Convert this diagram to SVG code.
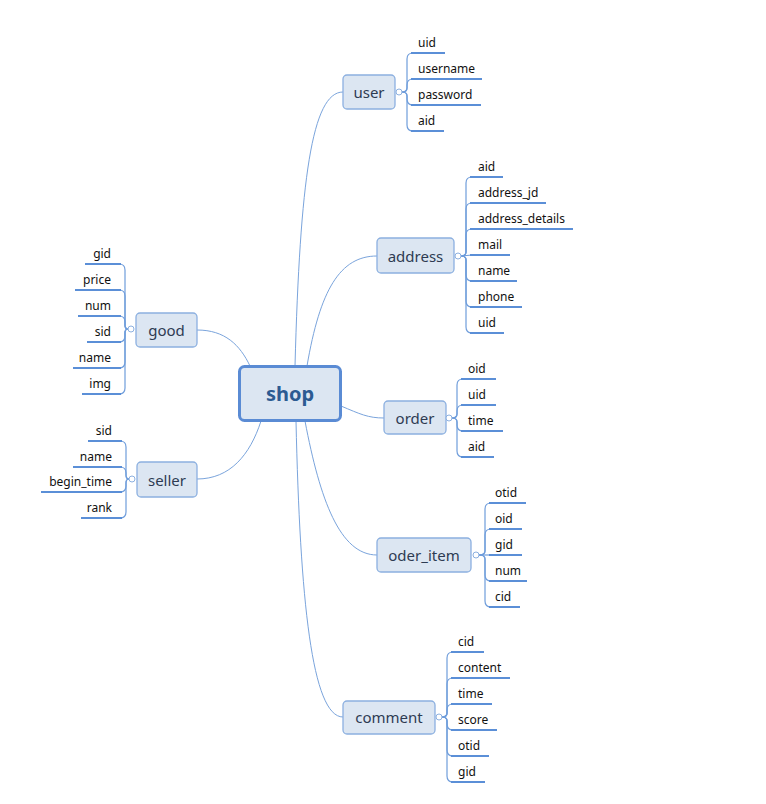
<svg xmlns="http://www.w3.org/2000/svg" width="766" height="804" viewBox="0 0 766 804">
<style>
.bg{fill:#ffffff}
.node{fill:#dce6f2;stroke:#8cb0e0;stroke-width:1.3}
.root{fill:#dce6f2;stroke:#5a8bd4;stroke-width:3}
.lbl{font-family:"Noto Sans","Open Sans",sans-serif;font-size:15px;fill:#2e3b52;text-anchor:middle;dominant-baseline:central}
.rlbl{font-family:"Noto Sans","Open Sans",sans-serif;font-size:20px;font-weight:bold;fill:#2c5b92;text-anchor:middle;dominant-baseline:central}
.ct{font-family:"Noto Sans","Open Sans",sans-serif;font-size:12px;fill:#111111}
.ce{text-anchor:end}
.ul{stroke:#5b8fd7;stroke-width:2;fill:none}
.con{stroke:#7aa4dc;stroke-width:1;fill:none}
.br{stroke:#6f9ddb;stroke-width:1.2;fill:none}
.dot{fill:#ffffff;stroke:#8cb0e0;stroke-width:1}
</style>
<rect class="bg" x="0" y="0" width="766" height="804"/>
<g id="connectors">
<path class="con" d="M295 366 C300 180 312 92 343 92"/>
<path class="con" d="M307 366 C320 290 340 256 377 256"/>
<path class="con" d="M341 406 C360 414 368 418 384 418"/>
<path class="con" d="M305 421 C320 500 340 555 377 555"/>
<path class="con" d="M296 421 C300 600 312 717 343 717"/>
<path class="con" d="M250 366 C240 345 225 330 197 330"/>
<path class="con" d="M261 421 C250 455 230 479 197 479"/>
<!-- user brace -->
<path class="br" d="M402 92 Q407 92 407 88 L407 59 Q407 53 413 53"/>
<path class="br" d="M402 92 Q407 92 407 88 L407 85 Q407 79 413 79"/>
<path class="br" d="M402 92 Q407 92 407 96 L407 99 Q407 105 413 105"/>
<path class="br" d="M402 92 Q407 92 407 96 L407 125 Q407 131 413 131"/>
<!-- address brace -->
<path class="br" d="M461 256 Q466 256 466 252 L466 183 Q466 177 472 177"/>
<path class="br" d="M461 256 Q466 256 466 252 L466 209 Q466 203 472 203"/>
<path class="br" d="M461 256 Q466 256 466 252 L466 235 Q466 229 472 229"/>
<path class="br" d="M461 256 L472 255"/>
<path class="br" d="M461 256 Q466 256 466 260 L466 275 Q466 281 472 281"/>
<path class="br" d="M461 256 Q466 256 466 260 L466 301 Q466 307 472 307"/>
<path class="br" d="M461 256 Q466 256 466 260 L466 327 Q466 333 472 333"/>
<!-- order brace -->
<path class="br" d="M452 418 Q457 418 457 414 L457 385 Q457 379 463 379"/>
<path class="br" d="M452 418 Q457 418 457 414 L457 411 Q457 405 463 405"/>
<path class="br" d="M452 418 Q457 418 457 422 L457 425 Q457 431 463 431"/>
<path class="br" d="M452 418 Q457 418 457 422 L457 451 Q457 457 463 457"/>
<!-- oder_item brace -->
<path class="br" d="M479 555 Q485 555 485 551 L485 509 Q485 503 491 503"/>
<path class="br" d="M479 555 Q485 555 485 551 L485 535 Q485 529 491 529"/>
<path class="br" d="M479 555 L491 555"/>
<path class="br" d="M479 555 Q485 555 485 559 L485 575 Q485 581 491 581"/>
<path class="br" d="M479 555 Q485 555 485 559 L485 601 Q485 607 491 607"/>
<!-- comment brace -->
<path class="br" d="M442 717 Q447 717 447 713 L447 658 Q447 652 453 652"/>
<path class="br" d="M442 717 Q447 717 447 713 L447 684 Q447 678 453 678"/>
<path class="br" d="M442 717 Q447 717 447 713 L447 710 Q447 704 453 704"/>
<path class="br" d="M442 717 Q447 717 447 721 L447 724 Q447 730 453 730"/>
<path class="br" d="M442 717 Q447 717 447 721 L447 750 Q447 756 453 756"/>
<path class="br" d="M442 717 Q447 717 447 721 L447 776 Q447 782 453 782"/>
<!-- good brace -->
<path class="br" d="M128 329 Q125 329 125 325 L125 270 Q125 264 119 264"/>
<path class="br" d="M128 329 Q125 329 125 325 L125 296 Q125 290 119 290"/>
<path class="br" d="M128 329 Q125 329 125 325 L125 322 Q125 316 119 316"/>
<path class="br" d="M128 329 Q125 329 125 333 L125 336 Q125 342 119 342"/>
<path class="br" d="M128 329 Q125 329 125 333 L125 362 Q125 368 119 368"/>
<path class="br" d="M128 329 Q125 329 125 333 L125 388 Q125 394 119 394"/>
<!-- seller brace -->
<path class="br" d="M129 479 Q126 479 126 475 L126 447 Q126 441 120 441"/>
<path class="br" d="M129 479 Q126 479 126 475 L126 473 Q126 467 120 467"/>
<path class="br" d="M129 479 Q126 479 126 483 L126 486 Q126 492 120 492"/>
<path class="br" d="M129 479 Q126 479 126 483 L126 512 Q126 518 120 518"/>
</g>
<g id="shop">
<rect class="root" x="239.5" y="366.5" width="101" height="54" rx="5"/>
<text class="rlbl" x="290" y="393">shop</text>
</g>
<g id="user">
<rect class="node" x="343" y="75" width="52" height="34" rx="4"/>
<text class="lbl" x="369" y="92">user</text>
<circle class="dot" cx="399" cy="92" r="3"/>
</g>
<g id="user-children">
<line class="ul" x1="411" y1="53" x2="445" y2="53"/><text class="ct" x="418" y="47">uid</text>
<line class="ul" x1="411" y1="79" x2="482" y2="79"/><text class="ct" x="418" y="73">username</text>
<line class="ul" x1="411" y1="105" x2="481" y2="105"/><text class="ct" x="418" y="99">password</text>
<line class="ul" x1="411" y1="131" x2="444" y2="131"/><text class="ct" x="418" y="125">aid</text>
</g>
<g id="address">
<rect class="node" x="377" y="238" width="77" height="35" rx="4"/>
<text class="lbl" x="415.5" y="255.5">address</text>
<circle class="dot" cx="458" cy="256" r="3"/>
</g>
<g id="address-children">
<line class="ul" x1="470" y1="177" x2="503" y2="177"/><text class="ct" x="478" y="171">aid</text>
<line class="ul" x1="470" y1="203" x2="546" y2="203"/><text class="ct" x="478" y="197">address_jd</text>
<line class="ul" x1="470" y1="229" x2="573" y2="229"/><text class="ct" x="478" y="223">address_details</text>
<line class="ul" x1="470" y1="255" x2="510" y2="255"/><text class="ct" x="478" y="249">mail</text>
<line class="ul" x1="470" y1="281" x2="517" y2="281"/><text class="ct" x="478" y="275">name</text>
<line class="ul" x1="470" y1="307" x2="522" y2="307"/><text class="ct" x="478" y="301">phone</text>
<line class="ul" x1="470" y1="333" x2="504" y2="333"/><text class="ct" x="478" y="327">uid</text>
</g>
<g id="order">
<rect class="node" x="384" y="401" width="62" height="33" rx="4"/>
<text class="lbl" x="415" y="417.5">order</text>
<circle class="dot" cx="449" cy="418" r="3"/>
</g>
<g id="order-children">
<line class="ul" x1="461" y1="379" x2="496" y2="379"/><text class="ct" x="468" y="373">oid</text>
<line class="ul" x1="461" y1="405" x2="496" y2="405"/><text class="ct" x="468" y="399">uid</text>
<line class="ul" x1="461" y1="431" x2="503" y2="431"/><text class="ct" x="468" y="425">time</text>
<line class="ul" x1="461" y1="457" x2="494" y2="457"/><text class="ct" x="468" y="451">aid</text>
</g>
<g id="oder_item">
<rect class="node" x="377" y="538" width="94" height="34" rx="4"/>
<text class="lbl" x="424" y="555">oder_item</text>
<circle class="dot" cx="476" cy="555" r="3"/>
</g>
<g id="oder_item-children">
<line class="ul" x1="489" y1="503" x2="526" y2="503"/><text class="ct" x="495" y="497">otid</text>
<line class="ul" x1="489" y1="529" x2="522" y2="529"/><text class="ct" x="495" y="523">oid</text>
<line class="ul" x1="489" y1="555" x2="522" y2="555"/><text class="ct" x="495" y="549">gid</text>
<line class="ul" x1="489" y1="581" x2="527" y2="581"/><text class="ct" x="495" y="575">num</text>
<line class="ul" x1="489" y1="607" x2="520" y2="607"/><text class="ct" x="495" y="601">cid</text>
</g>
<g id="comment">
<rect class="node" x="343" y="701" width="92" height="33" rx="4"/>
<text class="lbl" x="389" y="717">comment</text>
<circle class="dot" cx="439" cy="717" r="3"/>
</g>
<g id="comment-children">
<line class="ul" x1="451" y1="652" x2="484" y2="652"/><text class="ct" x="458" y="646">cid</text>
<line class="ul" x1="451" y1="678" x2="510" y2="678"/><text class="ct" x="458" y="672">content</text>
<line class="ul" x1="451" y1="704" x2="492" y2="704"/><text class="ct" x="458" y="698">time</text>
<line class="ul" x1="451" y1="730" x2="497" y2="730"/><text class="ct" x="458" y="724">score</text>
<line class="ul" x1="451" y1="756" x2="489" y2="756"/><text class="ct" x="458" y="750">otid</text>
<line class="ul" x1="451" y1="782" x2="485" y2="782"/><text class="ct" x="458" y="776">gid</text>
</g>
<g id="good">
<rect class="node" x="136" y="313" width="61" height="34" rx="4"/>
<text class="lbl" x="166.5" y="330">good</text>
<circle class="dot" cx="131" cy="329" r="3"/>
</g>
<g id="good-children">
<line class="ul" x1="85" y1="264" x2="121" y2="264"/><text class="ct ce" x="111" y="258">gid</text>
<line class="ul" x1="75" y1="290" x2="121" y2="290"/><text class="ct ce" x="111" y="284">price</text>
<line class="ul" x1="78" y1="316" x2="121" y2="316"/><text class="ct ce" x="111" y="310">num</text>
<line class="ul" x1="87" y1="342" x2="121" y2="342"/><text class="ct ce" x="111" y="336">sid</text>
<line class="ul" x1="73" y1="368" x2="121" y2="368"/><text class="ct ce" x="111" y="362">name</text>
<line class="ul" x1="82" y1="394" x2="121" y2="394"/><text class="ct ce" x="111" y="388">img</text>
</g>
<g id="seller">
<rect class="node" x="137" y="462" width="60" height="35" rx="4"/>
<text class="lbl" x="167" y="479.5">seller</text>
<circle class="dot" cx="132" cy="479" r="3"/>
</g>
<g id="seller-children">
<line class="ul" x1="88" y1="441" x2="122" y2="441"/><text class="ct ce" x="112" y="435">sid</text>
<line class="ul" x1="73" y1="467" x2="122" y2="467"/><text class="ct ce" x="112" y="461">name</text>
<line class="ul" x1="41" y1="492" x2="122" y2="492"/><text class="ct ce" x="112" y="486">begin_time</text>
<line class="ul" x1="81" y1="518" x2="122" y2="518"/><text class="ct ce" x="112" y="512">rank</text>
</g>
</svg>
